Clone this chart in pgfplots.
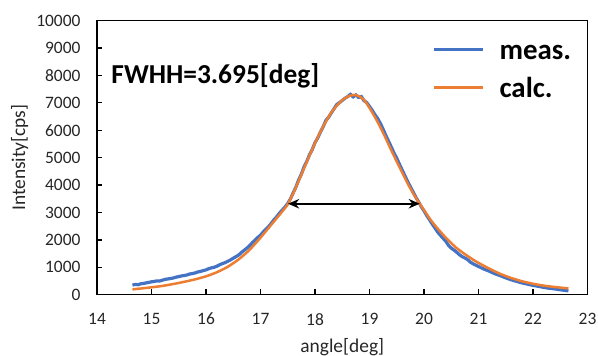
\documentclass[border=0pt]{standalone}
\usepackage{fontspec}
\setmainfont{Carlito}
\usepackage{pgfplots}
\pgfplotsset{compat=1.18}
\usetikzlibrary{arrows.meta}
\definecolor{measblue}{HTML}{4472C4}
\definecolor{calcorange}{HTML}{ED7D31}
\pgfplotstableread{
x y
14.65 350
14.7 375
14.75 365
14.8 395
14.85 410
14.9 430
14.95 450
15.0 470
15.05 485
15.1 505
15.15 500
15.2 530
15.25 560
15.3 575
15.35 590
15.4 610
15.45 640
15.5 660
15.55 685
15.6 700
15.65 720
15.7 755
15.75 770
15.8 795
15.85 830
15.9 850
15.95 880
16.0 905
16.05 950
16.1 980
16.15 1000
16.2 1040
16.25 1090
16.3 1135
16.35 1170
16.4 1220
16.45 1270
16.5 1330
16.55 1390
16.6 1450
16.65 1540
16.7 1620
16.75 1700
16.8 1790
16.85 1900
16.9 1990
16.95 2090
17.0 2170
17.05 2290
17.1 2390
17.15 2490
17.2 2610
17.25 2740
17.3 2850
17.35 2980
17.4 3090
17.45 3200
17.5 3330
17.55 3500
17.6 3720
17.65 3930
17.7 4190
17.75 4400
17.8 4670
17.85 4870
17.9 5110
17.95 5300
18.0 5550
18.05 5720
18.1 5940
18.15 6130
18.2 6360
18.25 6480
18.3 6640
18.35 6790
18.4 6940
18.45 7010
18.5 7090
18.55 7170
18.6 7230
18.65 7310
18.7 7220
18.75 7290
18.8 7200
18.85 7230
18.9 7080
18.95 7010
19.0 6870
19.05 6730
19.1 6570
19.15 6430
19.2 6250
19.25 6040
19.3 5810
19.35 5600
19.4 5390
19.45 5170
19.5 4980
19.55 4760
19.6 4550
19.65 4340
19.7 4130
19.75 3940
19.8 3750
19.85 3560
19.9 3390
19.95 3210
20.0 3060
20.05 2890
20.1 2740
20.15 2580
20.2 2440
20.25 2290
20.3 2170
20.35 2060
20.4 1950
20.45 1800
20.5 1700
20.55 1630
20.6 1550
20.65 1460
20.7 1390
20.75 1340
20.8 1280
20.85 1190
20.9 1130
20.95 1080
21.0 1030
21.1 935
21.2 855
21.3 765
21.4 695
21.5 615
21.6 545
21.7 485
21.8 430
21.9 385
22.0 340
22.1 305
22.2 265
22.3 235
22.4 210
22.5 180
22.6 155
22.65 140
}\meas
\pgfplotstableread{
x y
14.65 195
14.8 225
15.0 270
15.2 320
15.4 390
15.6 470
15.8 560
16.0 670
16.2 820
16.4 1020
16.6 1290
16.8 1640
17.0 2080
17.2 2560
17.4 3040
17.5 3300
17.6 3700
17.7 4150
17.8 4620
17.9 5080
18.0 5530
18.1 5950
18.2 6320
18.3 6650
18.4 6900
18.5 7100
18.6 7230
18.7 7290
18.8 7250
18.9 7110
19.0 6820
19.1 6480
19.2 6110
19.3 5700
19.4 5270
19.5 4860
19.6 4460
19.7 4060
19.8 3700
19.9 3380
20.0 3090
20.1 2790
20.2 2530
20.3 2300
20.4 2080
20.5 1880
20.6 1700
20.7 1550
20.8 1410
20.9 1280
21.0 1160
21.2 950
21.4 760
21.6 610
21.8 490
22.0 400
22.2 330
22.4 280
22.65 230
}\calc
\begin{document}
\begin{tikzpicture}
\path[use as bounding box] (-97bp,-61.3bp) rectangle (501bp,294.7bp);
\begin{axis}[
  scale only axis, width=490.5bp, height=274bp,
  xmin=14, xmax=23, ymin=0, ymax=10000,
  axis lines=box, clip=false,
  xtick={14,15,...,23}, ytick={0,1000,...,10000},
  tick align=inside, xtick pos=bottom, ytick pos=left,
  major tick length=5.5bp,
  axis line style={line width=1.2bp, black},
  every tick/.style={black, line width=1.2bp},
  scaled y ticks=false,
  /pgf/number format/1000 sep={},
  /pgf/number format/assume math mode=true,
  ticklabel style={font=\fontsize{17.5}{20}\selectfont, text=black!85},
  xticklabel style={anchor=north, inner sep=0pt, yshift=-18.3bp},
  yticklabel style={anchor=east, inner sep=0pt, xshift=-16.3bp},
  xlabel={angle[deg]}, ylabel={Intensity[cps]},
  label style={font=\fontsize{19.5}{23}\selectfont, text=black!85, inner sep=0pt},
  xlabel style={at={(axis description cs:0.5,-0.192)}, anchor=center},
  ylabel style={at={(axis description cs:-0.1576,0.5)}, anchor=center},
  legend style={at={(0.6837,0.9327)}, anchor=north west, draw=none, fill=none,
    inner sep=0pt, row sep=12.4bp, column sep=15bp,
    font=\bfseries\fontsize{29}{34}\selectfont,
    nodes={inner sep=0pt, text height=20bp, text depth=6bp, anchor=west}},
  legend cell align=left,
  legend image code/.code={\draw[#1, line width=3bp] (0bp,3bp) -- (49bp,3bp);},
]
\addplot[measblue, line width=3.2bp] table {\meas};
\addlegendentry{meas.}
\addplot[calcorange, line width=2.5bp, smooth, tension=0.4] table {\calc};
\addlegendentry{calc.}
\draw[line width=2bp, {Stealth[length=11bp,width=9.5bp]}-{Stealth[length=11bp,width=9.5bp]}] (axis cs:17.507,3320) -- (axis cs:19.921,3320);
\node[anchor=base west, inner sep=0pt, font=\bfseries\fontsize{27.5}{32}\selectfont] at (axis description cs:0.029,0.7715) {FWHH=3.695[deg]};
\draw[line width=1.4bp, black] (rel axis cs:0,0) rectangle (rel axis cs:1,1);
\end{axis}
\end{tikzpicture}
\end{document}
